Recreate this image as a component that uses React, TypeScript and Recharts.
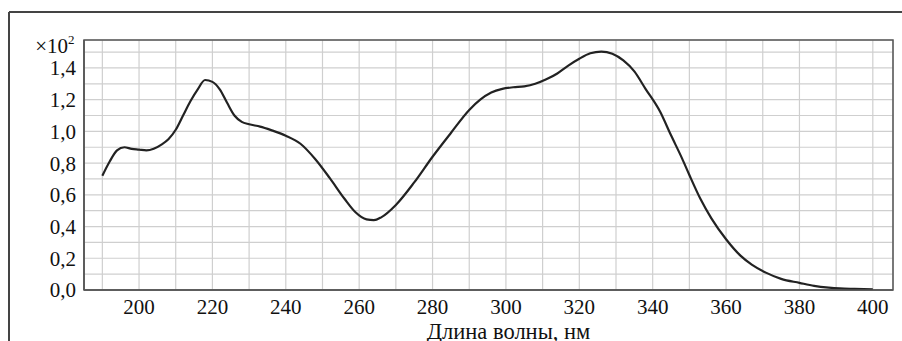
import {
  LineChart,
  Line,
  XAxis,
  YAxis,
  CartesianGrid,
  ReferenceArea,
} from "recharts";

// wavelength, nm
const wavelengths = [
  190, 192, 194, 196, 198, 200, 202, 204, 206, 208, 210, 212, 214, 216, 218,
  220, 222, 224, 226, 228, 230, 233, 236, 240, 244, 248, 252, 256, 259, 262,
  264, 266, 270, 275, 280, 285, 290, 293, 296, 299, 302, 305, 308, 311, 314,
  317, 320, 323, 326, 329, 332, 335, 338, 342, 345, 348, 350, 353, 356, 360,
  364, 367, 371, 375, 380, 384, 388, 391, 395, 400,
];

// absorbance, x10^2
const absorbance = [
  0.72, 0.81, 0.88, 0.9, 0.89, 0.885, 0.88, 0.89, 0.915, 0.95, 1.01, 1.1, 1.19,
  1.265, 1.324, 1.312, 1.265, 1.18, 1.1, 1.06, 1.045, 1.03, 1.008, 0.973, 0.922,
  0.826, 0.705, 0.575, 0.49, 0.445, 0.44, 0.458, 0.536, 0.678, 0.84, 0.99, 1.135,
  1.2, 1.245, 1.268, 1.278, 1.284, 1.3, 1.328, 1.365, 1.415, 1.458, 1.492, 1.503,
  1.489, 1.447, 1.378, 1.27, 1.125, 0.975, 0.83, 0.725, 0.575, 0.452, 0.32,
  0.215, 0.16, 0.108, 0.07, 0.045, 0.026, 0.015, 0.01, 0.007, 0.004,
];

const xTicks = [
  190, 200, 210, 220, 230, 240, 250, 260, 270, 280, 290, 300, 310, 320, 330,
  340, 350, 360, 370, 380, 390, 400,
];
const yTicks = [
  0, 0.1, 0.2, 0.3, 0.4, 0.5, 0.6, 0.7, 0.8, 0.9, 1.0, 1.1, 1.2, 1.3, 1.4, 1.5,
];

const data = wavelengths.map((wl, i) => ({ wl, a: absorbance[i] }));

const font = "'Liberation Serif', 'Times New Roman', serif";
const tickStyle = { fontFamily: font, fontSize: 21, fill: "#111" };

export default function App() {
  return (
    <div style={{ position: "absolute", left: 0, top: 0, width: 902, height: 341, background: "#fff" }}>
      {/* outer frame + multiplier */}
      <svg width={902} height={341} style={{ position: "absolute", left: 0, top: 0 }}>
        <line x1={9} y1={12} x2={902} y2={12} stroke="#444" strokeWidth={2} />
        <line x1={9} y1={12} x2={9} y2={341} stroke="#444" strokeWidth={2} />
        <text x={68} y={53} textAnchor="end" fontFamily={font} fontSize={21} fill="#111">
          ×10
        </text>
        <text x={68} y={44} fontFamily={font} fontSize={13} fill="#111">
          2
        </text>
      </svg>
      <div style={{ position: "absolute", left: 0, top: 0 }}>
        <LineChart
          width={902}
          height={341}
          data={data}
          margin={{ top: 40, right: 9, left: 0, bottom: 0 }}
        >
          <CartesianGrid stroke="#cfcfcf" strokeWidth={1.2} />
          <XAxis
            dataKey="wl"
            type="number"
            domain={[185, 405.5]}
            allowDataOverflow
            ticks={xTicks}
            interval={0}
            height={51}
            tickLine={false}
            tickSize={0}
            tickMargin={9}
            axisLine={{ stroke: "#555", strokeWidth: 1.5 }}
            tick={tickStyle}
            tickFormatter={(v: number) => (v % 20 === 0 ? String(v) : "")}
            label={{
              value: "Длина волны, нм",
              position: "insideBottom",
              offset: 2,
              dx: 20,
              style: { fontFamily: font, fontSize: 22.5, fill: "#111" },
            }}
          />
          <YAxis
            type="number"
            domain={[0, 1.576]}
            allowDataOverflow
            ticks={yTicks}
            interval={0}
            width={84}
            tickLine={false}
            tickSize={0}
            tickMargin={8}
            axisLine={{ stroke: "#555", strokeWidth: 1.5 }}
            tick={tickStyle}
            tickFormatter={(v: number) =>
              Math.round(v * 10) % 2 === 0 ? v.toFixed(1).replace(".", ",") : ""
            }
          />
          <ReferenceArea
            x1={185}
            x2={405.5}
            y1={0}
            y2={1.576}
            fill="none"
            stroke="#555"
            strokeWidth={1.5}
            ifOverflow="visible"
          />
          <Line
            type="monotone"
            dataKey="a"
            stroke="#222"
            strokeWidth={2.2}
            dot={false}
            isAnimationActive={false}
          />
        </LineChart>
      </div>
    </div>
  );
}
